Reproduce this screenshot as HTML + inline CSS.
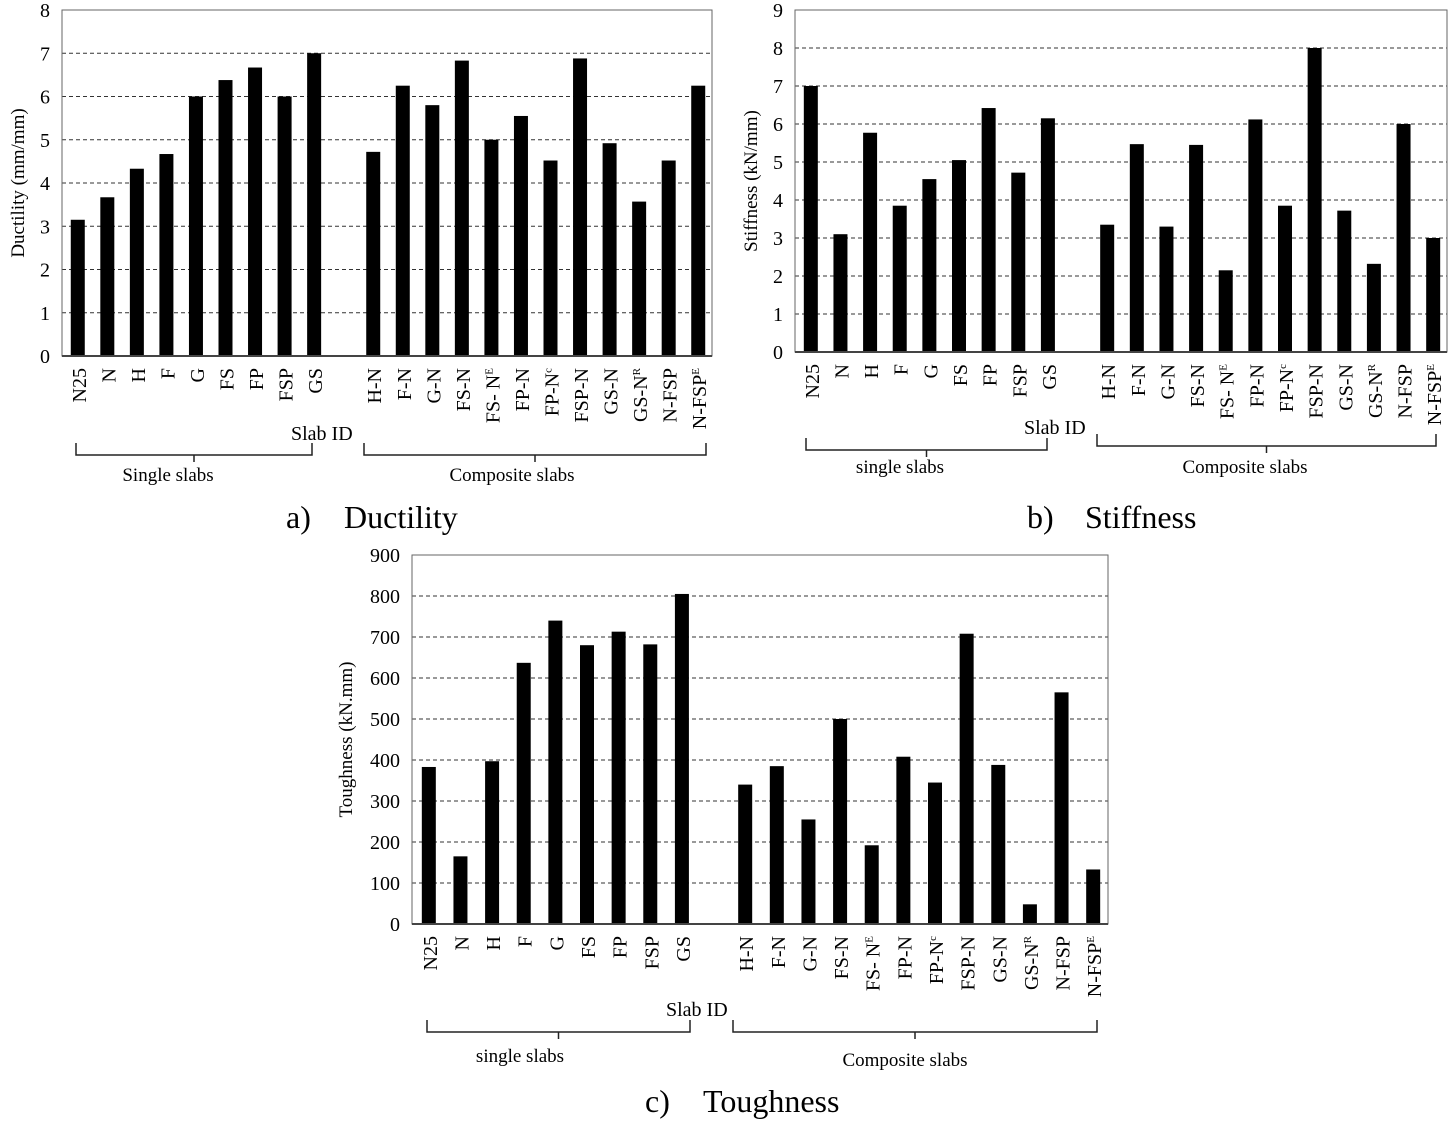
<!DOCTYPE html>
<html><head><meta charset="utf-8"><style>
html,body{margin:0;padding:0;background:#fff;}
svg{display:block;font-family:"Liberation Serif",serif;}
</style></head><body>
<svg id="fig" width="1451" height="1124" viewBox="0 0 1451 1124" xmlns="http://www.w3.org/2000/svg"></svg>
<script>
const categories = ["N25","N","H","F","G","FS","FP","FSP","GS","","H-N","F-N","G-N","FS-N","FS- N^E","FP-N","FP-N^c","FSP-N","GS-N","GS-N^R","N-FSP","N-FSP^E"];
const ductility = [3.15,3.67,4.33,4.67,6.0,6.38,6.67,6.0,7.0,null,4.72,6.25,5.8,6.83,5.0,5.55,4.52,6.88,4.92,3.57,4.52,6.25];
const stiffness = [7.0,3.1,5.77,3.85,4.55,5.05,6.42,4.72,6.15,null,3.35,5.47,3.3,5.45,2.15,6.12,3.85,8.0,3.72,2.32,6.0,3.0];
const toughness = [383,165,397,637,740,680,713,682,805,null,340,385,255,500,192,408,345,708,388,48,565,133];
const ductTicks = [0,1,2,3,4,5,6,7,8];
const stiffTicks = [0,1,2,3,4,5,6,7,8,9];
const toughTicks = [0,100,200,300,400,500,600,700,800,900];

const NS="http://www.w3.org/2000/svg";
const svg=document.getElementById('fig');
function mk(tag,attrs,parent){const e=document.createElementNS(NS,tag);for(const k in attrs)e.setAttribute(k,attrs[k]);(parent||svg).appendChild(e);return e;}

function drawChart(c){
  const g=mk('g',{});
  
  
  const ymax=c.ticks[c.ticks.length-1];
  const yS=v=>c.y1-(v/ymax)*(c.y1-c.y0);
  const slot=(c.x1-c.x0)/categories.length;
  const xS=i=>c.x0+slot*(i+0.5);
  c.ticks.forEach(t=>{
    const y=yS(t);
    if(t>0&&t<ymax){const l=mk('line',{x1:c.x0,x2:c.x1,y1:y,y2:y,stroke:'#333','stroke-width':1,'stroke-dasharray':'4,3'},g);
      
      }
    const tx=mk('text',{x:c.x0-12,y:y+7,'text-anchor':'end','font-size':20},g);
    tx.textContent=t;
    
    
  });
  const fr=mk('rect',{x:c.x0,y:c.y0,width:c.x1-c.x0,height:c.y1-c.y0,fill:'none',stroke:'#666','stroke-width':1},g);
  
  
  c.values.forEach((v,i)=>{
    if(v===null)return;
    const b=mk('rect',{x:xS(i)-7+c.bdx,y:yS(v),width:14,height:yS(0)-yS(v),fill:'#000'},g);
    
    
  });
  const ax=mk('line',{x1:c.x0,x2:c.x1,y1:c.y1,y2:c.y1,stroke:'#444','stroke-width':2},g);
  
  
  categories.forEach((cat,i)=>{
    if(!cat)return;
    const x=xS(i)+8+c.bdx, y=c.y1+12;
    const t=mk('text',{transform:`translate(${x},${y}) rotate(-90)`,'text-anchor':'end','font-size':20},g);
    const parts=cat.split('^');
    t.appendChild(document.createTextNode(parts[0]));
    if(parts[1]){const s=mk('tspan',{'font-size':11,dy:-7},t);s.textContent=parts[1];}
    
    
  });
  const yt=mk('text',{transform:`translate(${c.ytx},${(c.y0+c.y1)/2}) rotate(-90)`,'text-anchor':'middle','font-size':19},g);
  yt.textContent=c.ytitle;
  
  
  const sid=mk('text',{x:c.sid[0],y:c.sid[1],'font-size':20},g);
  sid.textContent='Slab ID';
  
  
  c.braces.forEach(br=>{
    const [a,b,y,lab,lx,ly]=br;
    const m=(a+b)/2;
    const p=mk('path',{d:`M${a},${y-12} L${a},${y} L${b},${y} L${b},${y-12} M${m},${y} L${m},${y+7}`,fill:'none',stroke:'#222','stroke-width':1.5},g);
    
    
    const t=mk('text',{x:lx,y:ly,'text-anchor':'middle','font-size':19},g);
    t.textContent=lab;
    
    
  });
  const t1=mk('text',{x:c.title[0],y:c.title[1],'font-size':32},g);
  t1.textContent=c.titleA;
  
  
  const t2=mk('text',{x:c.title[0]+58,y:c.title[1],'font-size':32},g);
  t2.textContent=c.titleB;
  
  
}

drawChart({name:'ductility-chart',values:ductility,ticks:ductTicks,x0:62,x1:712,y0:10,y1:356,bdx:1,ytx:24,ytitle:'Ductility (mm/mm)',sid:[291,440],
  braces:[[76,312,455,'Single slabs',168,481],[364,706,455,'Composite slabs',512,481]],title:[286,528],titleA:'a)',titleB:'Ductility'});
drawChart({name:'stiffness-chart',values:stiffness,ticks:stiffTicks,x0:795,x1:1447,y0:10,y1:352,bdx:1,ytx:757,ytitle:'Stiffness (kN/mm)',sid:[1024,434],
  braces:[[806,1047,450,'single slabs',900,473],[1097,1436,446,'Composite slabs',1245,473]],title:[1027,528],titleA:'b)',titleB:'Stiffness'});
drawChart({name:'toughness-chart',values:toughness,ticks:toughTicks,x0:412,x1:1108,y0:555,y1:924,bdx:1,ytx:352,ytitle:'Toughness (kN.mm)',sid:[666,1016],
  braces:[[427,690,1032,'single slabs',520,1062],[733,1097,1032,'Composite slabs',905,1066]],title:[645,1112],titleA:'c)',titleB:'Toughness'});
</script>
</body></html>
